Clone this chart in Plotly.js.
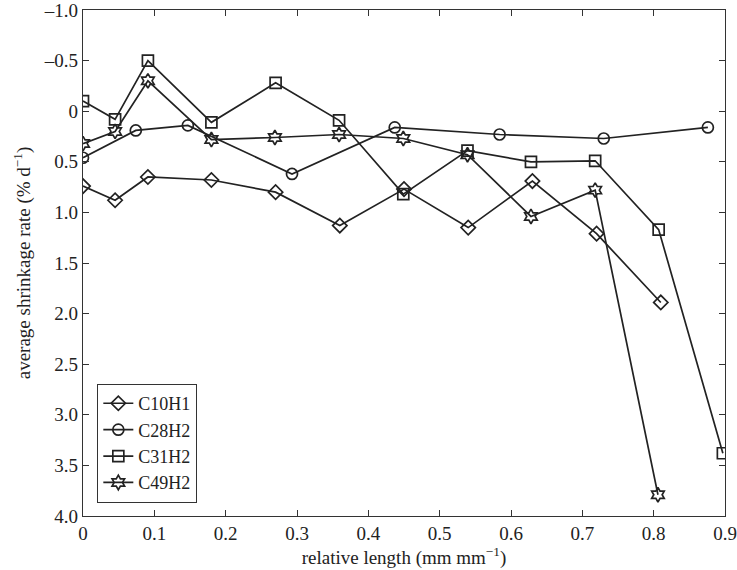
<!DOCTYPE html>
<html>
<head>
<meta charset="utf-8">
<script src="https://cdn.plot.ly/plotly-3.0.1.min.js"></script>
<style>
  html, body { margin: 0; padding: 0; background: #fff; }
  #chart { width: 737px; height: 570px; }
</style>
</head>
<body>
<div id="chart"></div>
<script>
// Nilai
let xC10H1 = [0, 0.045, 0.091, 0.18, 0.27, 0.36, 0.45, 0.54, 0.63, 0.72, 0.81];
let yC10H1 = [0.74, 0.88, 0.65, 0.68, 0.80, 1.13, 0.77, 1.15, 0.69, 1.21, 1.89];

let xC28H2 = [0, 0.074, 0.147, 0.293, 0.437, 0.584, 0.73, 0.876];
let yC28H2 = [0.46, 0.19, 0.14, 0.62, 0.16, 0.23, 0.27, 0.16];

let xC31H2 = [0, 0.045, 0.091, 0.18, 0.27, 0.359, 0.449, 0.539, 0.628, 0.718, 0.807, 0.897];
let yC31H2 = [-0.10, 0.08, -0.50, 0.11, -0.28, 0.09, 0.82, 0.39, 0.50, 0.49, 1.17, 3.38];

let xC49H2 = [0, 0.045, 0.091, 0.18, 0.269, 0.359, 0.449, 0.539, 0.628, 0.718, 0.806];
let yC49H2 = [0.32, 0.20, -0.30, 0.28, 0.26, 0.23, 0.27, 0.43, 1.04, 0.78, 3.79];

let yTickVals = [-1.0, -0.5, 0, 0.5, 1.0, 1.5, 2.0, 2.5, 3.0, 3.5, 4.0];
let yTickText = ['\u20131.0', '\u20130.5', '0', '0.5', '1.0', '1.5', '2.0', '2.5', '3.0', '3.5', '4.0'];
let xTickVals = [0, 0.1, 0.2, 0.3, 0.4, 0.5, 0.6, 0.7, 0.8, 0.9];
let xTickText = ['0', '0.1', '0.2', '0.3', '0.4', '0.5', '0.6', '0.7', '0.8', '0.9'];

let lineColor = '#222222';
let serif = 'Liberation Serif';

function makeTrace(x, y, name, symbol) {
    return {
        x: x,
        y: y,
        mode: 'lines+markers',
        name: name,
        line: { color: lineColor, width: 1.7 },
        marker: {
            symbol: symbol,
            size: 11,
            color: lineColor,
            line: { color: lineColor, width: 1.7 }
        }
    };
}

var data = [
    makeTrace(xC10H1, yC10H1, 'C10H1', 'diamond-open'),
    makeTrace(xC28H2, yC28H2, 'C28H2', 'circle-open'),
    makeTrace(xC31H2, yC31H2, 'C31H2', 'square-open'),
    makeTrace(xC49H2, yC49H2, 'C49H2', 'hexagram-open')
];

var axisCommon = {
    showgrid: false,
    zeroline: false,
    showline: true,
    linecolor: '#333',
    linewidth: 1.2,
    mirror: 'ticks',
    ticks: 'inside',
    ticklen: 6,
    tickcolor: '#333',
    ticklabeloverflow: 'allow',
    tickfont: { family: serif, size: 19, color: '#222' }
};

var layout = {
    width: 737,
    height: 570,
    margin: { l: 83, r: 12, t: 10, b: 54 },
    paper_bgcolor: '#fff',
    plot_bgcolor: '#fff',
    font: { family: serif, color: '#222' },
    showlegend: true,
    legend: {
        x: 0.022,
        y: 0.026,
        xanchor: 'left',
        yanchor: 'bottom',
        bgcolor: '#fff',
        bordercolor: '#333',
        borderwidth: 1.2,
        font: { family: serif, size: 18, color: '#222' },
        tracegroupgap: 0
    },
    xaxis: Object.assign({}, axisCommon, {
        range: [0, 0.9],
        tickvals: xTickVals,
        ticktext: xTickText,
        title: { text: 'relative length (mm mm<sup>\u22121</sup>)', font: { family: serif, size: 19, color: '#222' }, standoff: 4 }
    }),
    yaxis: Object.assign({}, axisCommon, {
        range: [4.0, -1.0],
        tickvals: yTickVals,
        ticktext: yTickText,
        title: { text: 'average shrinkage rate (% d<sup>\u22121</sup>)', font: { family: serif, size: 19, color: '#222' }, standoff: 8 }
    })
};

Plotly.newPlot('chart', data, layout, { displayModeBar: false });
</script>
</body>
</html>
